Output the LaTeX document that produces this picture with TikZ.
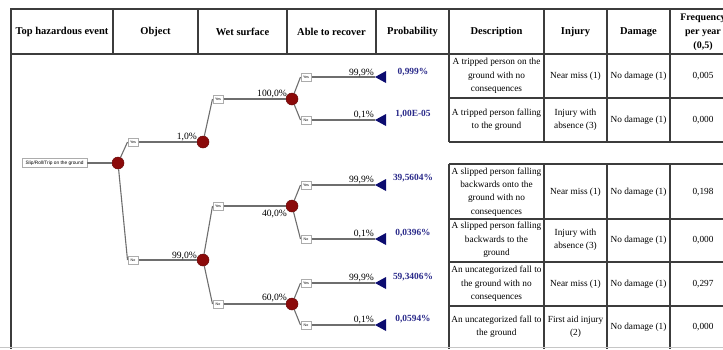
\documentclass[tikz,border=0pt]{standalone}
\usepackage{fontspec}
\setmainfont{Liberation Serif}
\newfontfamily\boxsans{Liberation Sans}
\definecolor{chance}{HTML}{8B0A0A}
\definecolor{endblue}{HTML}{0C0C70}
\definecolor{restext}{HTML}{2A2A8A}
\definecolor{branch}{HTML}{6E6E6E}
\definecolor{rule}{HTML}{3C3C3C}
\begin{document}
\begin{tikzpicture}[x=1pt,y=-1pt,
  hdr/.style={font=\bfseries\fontsize{10.5}{14}\selectfont, align=center, inner sep=0pt},
  cell/.style={font=\fontsize{9.3}{13.4}\selectfont, align=center, inner sep=0pt},
  pct/.style={font=\fontsize{9.6}{10}\selectfont, inner sep=0pt, anchor=base east},
  res/.style={font=\bfseries\fontsize{9.4}{10}\selectfont, text=restext, inner sep=0pt},
  chancenode/.style={circle, fill=chance, draw=chance!75!black, line width=0.5pt,
    minimum size=12pt, inner sep=0pt},
  branchbox/.style={draw=gray!65, fill=white, line width=0.5pt, inner sep=0pt,
    minimum width=10.5pt, minimum height=8pt, font=\boxsans\fontsize{3.6}{4}\selectfont},
  rootbox/.style={draw=gray!65, fill=white, line width=0.5pt, inner sep=0pt,
    minimum width=65pt, minimum height=9pt, font=\boxsans\fontsize{4.8}{5}\selectfont},
  branchline/.style={draw=branch, line width=1.1pt},
  tabrule/.style={draw=rule, line width=1.1pt},
  endtri/.pic={\fill[endblue] (0,0) -- (11,-6) -- (11,6) -- cycle;},
]
\useasboundingbox (0,0) rectangle (723,349);
\clip (0,0) rectangle (723,349);

% ---------- table frame ----------
\draw[rule, line width=2pt] (11,9) -- (740,9);
\draw[rule, line width=2pt] (11,8) -- (11,349);
\draw[tabrule] (11,54) -- (740,54);
\foreach \x in {113,198,287,376} \draw[tabrule] (\x,9) -- (\x,54);
\foreach \x in {449,544,607,670} {
  \draw[tabrule] (\x,9) -- (\x,142);
  \draw[tabrule] (\x,164) -- (\x,349);
}
\draw[tabrule] (449,98) -- (740,98);
\draw[tabrule] (449,142) -- (740,142);
\draw[tabrule] (449,164) -- (740,164);
\draw[tabrule] (449,219) -- (740,219);
\draw[tabrule] (449,262) -- (740,262);
\draw[tabrule] (449,306) -- (740,306);
\draw[gray!45, line width=1pt] (0,347.5) -- (723,347.5);

% ---------- header ----------
\node[hdr] (h1) at (62,32) {Top hazardous event};
\node[hdr] (h2) at (155.5,32) {Object};
\node[hdr] (h3) at (242.5,32) {Wet surface};
\node[hdr] (h4) at (331.5,32) {Able to recover};
\node[hdr] (h5) at (412.5,32) {Probability};
\node[hdr] (h6) at (496.5,32) {Description};
\node[hdr] (h7) at (575.5,32) {Injury};
\node[hdr] (h8) at (638.5,32) {Damage};
\node[hdr, font=\bfseries\fontsize{10}{14}\selectfont] (h9) at (703,32) {Frequency\\per year\\(0,5)};

% ---------- outcome rows ----------
\node[cell] (d1) at (496.5,76) {A tripped person on the\\ground with no\\consequences};
\node[cell] (i1) at (575.5,76) {Near miss (1)};
\node[cell] (g1) at (638.5,76) {No damage (1)};
\node[cell] (f1) at (703,76) {0,005};

\node[cell] (d2) at (496.5,120) {A tripped person falling\\to the ground};
\node[cell] (i2) at (575.5,120) {Injury with\\absence (3)};
\node[cell] (g2) at (638.5,120) {No damage (1)};
\node[cell] (f2) at (703,120) {0,000};

\node[cell] (d3) at (496.5,192) {A slipped person falling\\backwards onto the\\ground with no\\consequences};
\node[cell] (i3) at (575.5,192) {Near miss (1)};
\node[cell] (g3) at (638.5,192) {No damage (1)};
\node[cell] (f3) at (703,192) {0,198};

\node[cell] (d4) at (496.5,240) {A slipped person falling\\backwards to the\\ground};
\node[cell] (i4) at (575.5,240) {Injury with\\absence (3)};
\node[cell] (g4) at (638.5,240) {No damage (1)};
\node[cell] (f4) at (703,240) {0,000};

\node[cell] (d5) at (496.5,284) {An uncategorized fall to\\the ground with no\\consequences};
\node[cell] (i5) at (575.5,284) {Near miss (1)};
\node[cell] (g5) at (638.5,284) {No damage (1)};
\node[cell] (f5) at (703,284) {0,297};

\node[cell] (d6) at (496.5,327) {An uncategorized fall to\\the ground};
\node[cell] (i6) at (575.5,327) {First aid injury\\(2)};
\node[cell] (g6) at (638.5,327) {No damage (1)};
\node[cell] (f6) at (703,327) {0,000};

% ---------- event tree ----------
\node[rootbox] (root) at (54.5,163) {Slip/Roll/Trip on the ground};
\node[chancenode] (c0) at (118,163) {};

\node[branchbox] (y1) at (133,142) {Yes};
\node[branchbox] (n1) at (133,260) {No};
\node[chancenode] (c1) at (203,142) {};
\node[chancenode] (c2) at (203,260) {};

\node[branchbox] (y2) at (218,99) {Yes};
\node[chancenode] (c3) at (292,99) {};
\node[branchbox] (y4) at (218,206) {Yes};
\node[branchbox] (n4) at (218,304) {No};
\node[chancenode] (c4) at (292,206) {};
\node[chancenode] (c5) at (292,304) {};

\node[branchbox] (y3) at (306,77) {Yes};
\node[branchbox] (n3) at (306,120) {No};
\node[branchbox] (y5) at (306,185) {Yes};
\node[branchbox] (n5) at (306,239) {No};
\node[branchbox] (y6) at (306,283) {Yes};
\node[branchbox] (n6) at (306,325) {No};

\coordinate (e1) at (375,77);
\coordinate (e2) at (375,120);
\coordinate (e3) at (375,185);
\coordinate (e4) at (375,239);
\coordinate (e5) at (375,283);
\coordinate (e6) at (375,325);
\foreach \e in {e1,e2,e3,e4,e5,e6} \pic at (\e) {endtri};

% branches
\draw[branchline] (root) -- (c0);
\draw[branchline] (c0) -- (y1.west);
\draw[branchline] (c0) -- (n1.west);
\draw[branchline] (y1) -- (c1);
\draw[branchline] (n1) -- (c2);
\draw[branchline] (c1) -- (y2.west);
\draw[branchline] (y2) -- (c3);
\draw[branchline] (c2) -- (y4.west);
\draw[branchline] (c2) -- (n4.west);
\draw[branchline] (y4) -- (c4);
\draw[branchline] (n4) -- (c5);
\draw[branchline] (c3) -- (y3.west);
\draw[branchline] (c3) -- (n3.west);
\draw[branchline] (c4) -- (y5.west);
\draw[branchline] (c4) -- (n5.west);
\draw[branchline] (c5) -- (y6.west);
\draw[branchline] (c5) -- (n6.west);
\draw[branchline] (y3) -- (e1);
\draw[branchline] (n3) -- (e2);
\draw[branchline] (y5) -- (e3);
\draw[branchline] (n5) -- (e4);
\draw[branchline] (y6) -- (e5);
\draw[branchline] (n6) -- (e6);

% branch probabilities
\node[pct] (p1) at (197,139.5) {1,0\%};
\node[pct] (p2) at (197,258.5) {99,0\%};
\node[pct] (p3) at (287,96.5) {100,0\%};
\node[pct] (p4) at (287,216.5) {40,0\%};
\node[pct] (p5) at (287,300.5) {60,0\%};
\node[pct] (p6) at (374,75) {99,9\%};
\node[pct] (p7) at (374,117.5) {0,1\%};
\node[pct] (p8) at (374,182) {99,9\%};
\node[pct] (p9) at (374,236.5) {0,1\%};
\node[pct] (p10) at (374,280) {99,9\%};
\node[pct] (p11) at (374,322) {0,1\%};

% outcome probabilities
\node[res] (r1) at (413,72) {0,999\%};
\node[res] (r2) at (413,114) {1,00E-05};
\node[res] (r3) at (413,178) {39,5604\%};
\node[res] (r4) at (413,233) {0,0396\%};
\node[res] (r5) at (413,277) {59,3406\%};
\node[res] (r6) at (413,319) {0,0594\%};
\end{tikzpicture}
\end{document}
